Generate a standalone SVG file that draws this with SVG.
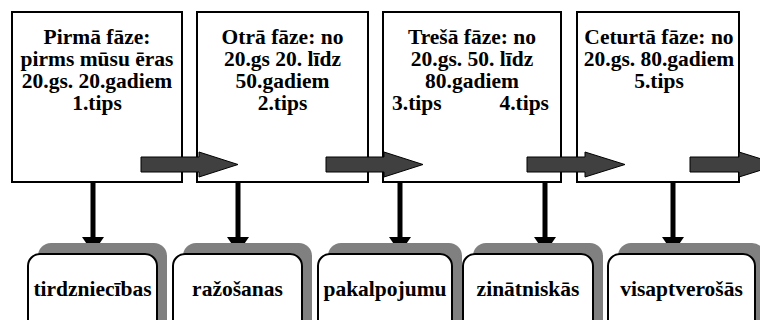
<svg xmlns="http://www.w3.org/2000/svg" width="760" height="320" viewBox="0 0 760 320">
<style>
.phase{fill:#fff;stroke:#000;stroke-width:2}
.t{font-family:"Liberation Serif","Times New Roman",serif;font-weight:bold;font-size:21.5px;fill:#000}
.c{text-anchor:middle}
.blk{fill:#404040;stroke:#000;stroke-width:1}
.shadow{fill:#808080}
.kind{fill:#fff;stroke:#000;stroke-width:2}
.vline{stroke:#000;stroke-width:5}
</style>
<rect width="760" height="320" fill="#fff"/>
<g id="phase1">
<rect class="phase" x="12" y="12" width="170" height="170"/>
<text class="t c" x="97" y="44">Pirmā fāze:</text>
<text class="t c" x="97" y="66">pirms mūsu ēras</text>
<text class="t c" x="97" y="88">20.gs. 20.gadiem</text>
<text class="t c" x="97" y="110">1.tips</text>
</g>
<g id="phase2">
<rect class="phase" x="197" y="12" width="171" height="170"/>
<text class="t c" x="282.5" y="44">Otrā fāze: no</text>
<text class="t c" x="282.5" y="66">20.gs 20. līdz</text>
<text class="t c" x="282.5" y="88">50.gadiem</text>
<text class="t c" x="282.5" y="110">2.tips</text>
</g>
<g id="phase3">
<rect class="phase" x="383" y="12" width="178" height="170"/>
<text class="t c" x="472" y="44">Trešā fāze: no</text>
<text class="t c" x="472" y="66">20.gs. 50. līdz</text>
<text class="t c" x="472" y="88">80.gadiem</text>
<text class="t" x="392" y="110">3.tips</text>
<text class="t" x="549" y="110" text-anchor="end">4.tips</text>
</g>
<g id="phase4">
<rect class="phase" x="577" y="12" width="162" height="170"/>
<text class="t c" x="659" y="44">Ceturtā fāze: no</text>
<text class="t c" x="659" y="66">20.gs. 80.gadiem</text>
<text class="t c" x="659" y="88">5.tips</text>
</g>
<g id="connectors">
<polygon class="blk" points="141,157 199,157 199,152 238,164.5 199,177 199,172 141,172"/>
<polygon class="blk" points="326,157 384,157 384,152 423,164.5 384,177 384,172 326,172"/>
<polygon class="blk" points="527,157 585,157 585,152 625,164.5 585,177 585,172 527,172"/>
<polygon class="blk" points="690,157 739,157 739,152 779,164.5 739,177 739,172 690,172"/>
<line class="vline" x1="93" y1="182" x2="93" y2="239"/>
<polygon points="82,237 104,237 93,253"/>
<line class="vline" x1="238" y1="182" x2="238" y2="239"/>
<polygon points="227,237 249,237 238,253"/>
<line class="vline" x1="400" y1="182" x2="400" y2="239"/>
<polygon points="389,237 411,237 400,253"/>
<line class="vline" x1="545" y1="182" x2="545" y2="239"/>
<polygon points="534,237 556,237 545,253"/>
<line class="vline" x1="673" y1="182" x2="673" y2="239"/>
<polygon points="662,237 684,237 673,253"/>
</g>
<g id="kind1">
<rect class="shadow" x="38" y="243" width="129" height="90" rx="13"/>
<rect class="kind" x="28" y="254" width="129" height="90" rx="12"/>
<text class="t c" x="92.5" y="296">tirdzniecības</text>
</g>
<g id="kind2">
<rect class="shadow" x="183" y="243" width="129" height="90" rx="13"/>
<rect class="kind" x="173" y="254" width="129" height="90" rx="12"/>
<text class="t c" x="237.5" y="296">ražošanas</text>
</g>
<g id="kind3">
<rect class="shadow" x="328" y="243" width="134" height="90" rx="13"/>
<rect class="kind" x="318" y="254" width="134" height="90" rx="12"/>
<text class="t c" x="385" y="296">pakalpojumu</text>
</g>
<g id="kind4">
<rect class="shadow" x="473" y="243" width="130" height="90" rx="13"/>
<rect class="kind" x="463" y="254" width="130" height="90" rx="12"/>
<text class="t c" x="528" y="296">zinātniskās</text>
</g>
<g id="kind5">
<rect class="shadow" x="618" y="243" width="147" height="90" rx="13"/>
<rect class="kind" x="608" y="254" width="147" height="90" rx="12"/>
<text class="t c" x="681.5" y="296">visaptverošās</text>
</g>
</svg>
